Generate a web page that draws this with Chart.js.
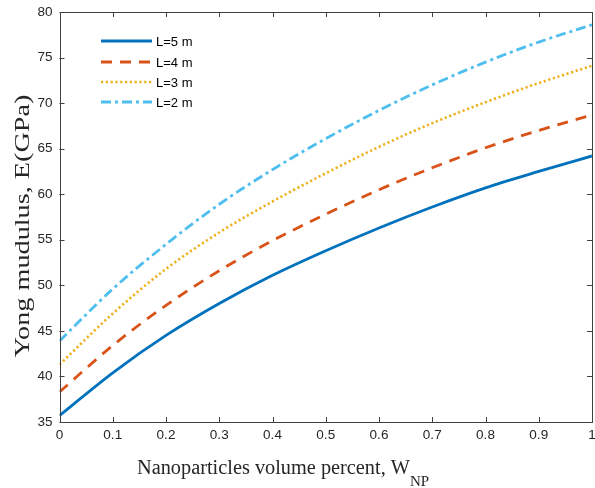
<!DOCTYPE html>
<html>
<head>
<meta charset="utf-8">
<script src="https://cdn.jsdelivr.net/npm/chart.js@4.4.1/dist/chart.umd.min.js"></script>
<style>
  html, body { margin: 0; padding: 0; background: #fff; }
  #wrap { width: 595px; height: 488px; position: relative; }
</style>
</head>
<body>
<div id="wrap"><canvas id="c" width="595" height="488"></canvas></div>
<script>
const xValues = [0, 0.1, 0.2, 0.3, 0.4, 0.5, 0.6, 0.7, 0.8, 0.9, 1.0];
const seriesL5 = [35.7, 40.4, 44.5, 48.0, 51.1, 53.8, 56.3, 58.6, 60.7, 62.5, 64.2];
const seriesL4 = [38.3, 43.4, 47.8, 51.6, 54.9, 57.8, 60.5, 62.9, 65.1, 67.0, 68.7];
const seriesL3 = [41.3, 46.9, 51.8, 55.8, 59.2, 62.3, 65.2, 67.8, 70.1, 72.2, 74.1];
const seriesL2 = [43.9, 49.6, 54.5, 58.9, 62.7, 66.1, 69.2, 72.0, 74.5, 76.7, 78.6];
const seriesLabels = ['L=5 m', 'L=4 m', 'L=3 m', 'L=2 m'];
const xTicks = [0, 0.1, 0.2, 0.3, 0.4, 0.5, 0.6, 0.7, 0.8, 0.9, 1];
const yTicks = [35, 40, 45, 50, 55, 60, 65, 70, 75, 80];
const xTitle = 'Nanoparticles volume percent, W';
const xTitleSub = 'NP';
const yTitle = 'Yong mudulus, E(GPa)';

const colors = ['#0072BD', '#D95319', '#EDB120', '#4DBEEE'];
const dashes = [[], [11, 8], [2.2, 2.6], [10, 4, 3, 4]];
const allSeries = [seriesL5, seriesL4, seriesL3, seriesL2];

const datasets = allSeries.map((s, i) => ({
  label: seriesLabels[i],
  data: xValues.map((x, j) => ({ x: x, y: s[j] })),
  borderColor: colors[i],
  borderWidth: i === 2 ? 2.6 : 2.8,
  borderDash: dashes[i],
  pointRadius: 0,
  fill: false,
  cubicInterpolationMode: 'monotone'
}));

const axisColor = '#262626';
const frameColor = '#404040';

const framePlugin = {
  id: 'frame',
  afterDraw(chart) {
    const ctx = chart.ctx;
    const a = chart.chartArea;
    const xs = chart.scales.x, ys = chart.scales.y;
    ctx.save();
    ctx.strokeStyle = frameColor;
    ctx.lineWidth = 1;
    ctx.strokeRect(Math.round(a.left) + 0.5, Math.round(a.top) + 0.5,
                   Math.round(a.right - a.left) - 1, Math.round(a.bottom - a.top));
    const tl = 5;
    ctx.beginPath();
    xTicks.forEach(v => {
      const px = Math.round(xs.getPixelForValue(v)) + 0.5;
      ctx.moveTo(px, a.bottom); ctx.lineTo(px, a.bottom - tl);
      ctx.moveTo(px, a.top); ctx.lineTo(px, a.top + tl);
    });
    yTicks.forEach(v => {
      const py = Math.round(ys.getPixelForValue(v)) + 0.5;
      ctx.moveTo(a.left, py); ctx.lineTo(a.left + tl, py);
      ctx.moveTo(a.right, py); ctx.lineTo(a.right - tl, py);
    });
    ctx.stroke();

    // axis titles
    ctx.fillStyle = axisColor;
    ctx.textBaseline = 'alphabetic';
    ctx.textAlign = 'left';
    const startX = 137;
    ctx.font = '20px "Liberation Serif", "Times New Roman", serif';
    const mainW = ctx.measureText(xTitle).width;
    ctx.save();
    ctx.translate(startX, 474);
    ctx.scale(273 / mainW, 1);
    ctx.fillText(xTitle, 0, 0);
    ctx.restore();
    ctx.font = '15px "Liberation Serif", "Times New Roman", serif';
    ctx.fillText(xTitleSub, startX + 273, 486);

    ctx.save();
    ctx.translate(29, 226);
    ctx.rotate(-Math.PI / 2);
    ctx.font = '21px "Liberation Serif", "Times New Roman", serif';
    const yw = ctx.measureText(yTitle).width;
    ctx.scale(263 / yw, 1);
    ctx.textAlign = 'center';
    ctx.fillText(yTitle, 0, 0);
    ctx.restore();

    // legend
    const lx0 = 101, lx1 = 152, tx = 156;
    const rows = [41, 62, 82, 102];
    chart.data.datasets.forEach((ds, i) => {
      ctx.beginPath();
      ctx.strokeStyle = ds.borderColor;
      ctx.lineWidth = ds.borderWidth;
      ctx.setLineDash(ds.borderDash);
      ctx.moveTo(lx0, rows[i]); ctx.lineTo(lx1, rows[i]);
      ctx.stroke();
      ctx.setLineDash([]);
      ctx.fillStyle = '#000';
      ctx.font = '13px "Liberation Sans", Arial, sans-serif';
      ctx.textAlign = 'left';
      ctx.textBaseline = 'middle';
      ctx.fillText(ds.label, tx, rows[i] + 1);
    });
    ctx.restore();
  }
};

new Chart(document.getElementById('c'), {
  type: 'line',
  data: { datasets: datasets },
  options: {
    responsive: false,
    animation: false,
    events: [],
    layout: { padding: { left: 0, right: 3, top: 12, bottom: 0 } },
    plugins: { legend: { display: false }, tooltip: { enabled: false } },
    scales: {
      x: {
        type: 'linear', min: 0, max: 1,
        grid: { display: false, drawTicks: false },
        border: { display: false },
        afterBuildTicks: s => { s.ticks = xTicks.map(v => ({ value: v })); },
        afterFit: s => { s.height = 66; s.paddingLeft = 0; s.paddingRight = 0; },
        ticks: {
          color: axisColor, padding: 5, maxRotation: 0,
          font: { family: '"Liberation Sans", Arial, sans-serif', size: 13.5 },
          callback: v => String(v)
        }
      },
      y: {
        type: 'linear', min: 35, max: 80,
        grid: { display: false, drawTicks: false },
        border: { display: false },
        afterBuildTicks: s => { s.ticks = yTicks.map(v => ({ value: v })); },
        afterFit: s => { s.width = 59.5; s.paddingTop = 0; s.paddingBottom = 0; },
        ticks: {
          color: axisColor, padding: 7,
          font: { family: '"Liberation Sans", Arial, sans-serif', size: 13.5 },
          callback: v => String(v)
        }
      }
    }
  },
  plugins: [framePlugin]
});
</script>
</body>
</html>
